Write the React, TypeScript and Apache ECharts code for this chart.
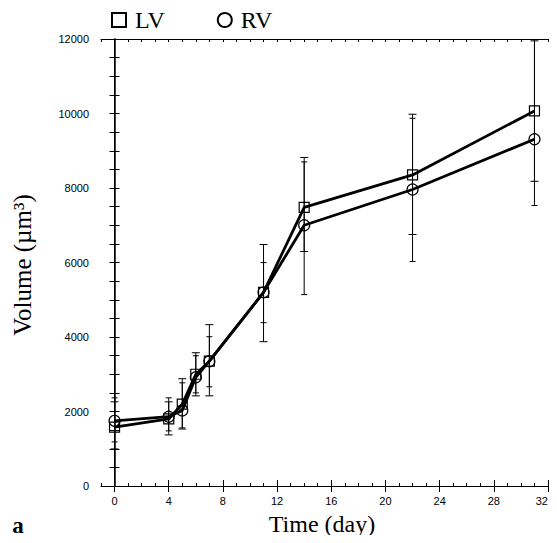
import React, { useEffect, useRef } from "react";
import * as echarts from "echarts";

const days = [0, 4, 5, 6, 7, 11, 14, 22, 31];
const lvMean = [1580, 1800, 2200, 3000, 3350, 5200, 7480, 8350, 10070];
const rvMean = [1750, 1860, 2030, 2920, 3350, 5200, 7000, 7960, 9310];
const lvLow = [995, 1372, 1530, 2420, 2420, 3874, 6295, 6752, 8180];
const lvHigh = [2260, 2260, 2880, 3578, 4331, 6483, 8820, 9980, 11950];
const rvLow = [1184, 1480, 1560, 2500, 2663, 4385, 5138, 6026, 7530];
const rvHigh = [2367, 2367, 2770, 3497, 4008, 5998, 8700, 9872, 12400];
const xLabels = [0, 4, 8, 12, 16, 20, 24, 28];
const xLastLabel = 32;
const xMajorTicks = [0, 4, 8, 12, 16, 20, 24, 28, 32];
const yLabels = [0, 2000, 4000, 6000, 8000, 10000, 12000];

const W = 557;
const H = 543;
const G_LEFT = 101;
const G_RIGHT = 9;
const G_TOP = 39;
const G_BOTTOM = 57;
const X_MIN = -1;
const X_MAX = 32;

const errorSeries = (name: string, low: number[], high: number[], cap: number) => ({
  type: "custom",
  name: name + "-err",
  clip: true,
  silent: true,
  z: 1,
  data: days.map((d, i) => [d, low[i], high[i]]),
  renderItem: (params: any, api: any) => {
    const x = api.value(0);
    const lo = api.coord([x, api.value(1)]);
    const hi = api.coord([x, api.value(2)]);
    const st = { stroke: "#000", lineWidth: 1 };
    return {
      type: "group",
      children: [
        { type: "line", shape: { x1: lo[0], y1: lo[1], x2: hi[0], y2: hi[1] }, style: st },
        { type: "line", shape: { x1: lo[0] - cap, y1: lo[1], x2: lo[0] + cap, y2: lo[1] }, style: st },
        { type: "line", shape: { x1: hi[0] - cap, y1: hi[1], x2: hi[0] + cap, y2: hi[1] }, style: st },
      ],
    };
  },
});

const lineSeries = (name: string, vals: number[], symbol: string, size: number) => ({
  type: "line",
  name,
  data: days.map((d, i) => [d, vals[i]]),
  symbol,
  symbolSize: size,
  showAllSymbol: true,
  z: 3,
  lineStyle: { color: "#000", width: 2.8 },
  itemStyle: { color: "rgba(0,0,0,0)", borderColor: "#000", borderWidth: 1.2 },
});

const axisBase = {
  type: "value",
  min: X_MIN,
  max: X_MAX,
  axisLine: { show: true, onZero: false, lineStyle: { color: "#000", width: 1 } },
  splitLine: { show: false },
};

export default function App() {
  const ref = useRef<HTMLDivElement>(null);
  useEffect(() => {
    const chart = echarts.init(ref.current!, null, { renderer: "svg" });
    const tickFont = { fontFamily: "Liberation Sans", fontSize: 11, color: "#000" };
    const lastX = G_LEFT + ((xLastLabel - X_MIN) / (X_MAX - X_MIN)) * (W - G_LEFT - G_RIGHT);
    const axisY = H - G_BOTTOM;
    chart.setOption({
      animation: false,
      backgroundColor: "#fff",
      grid: { left: G_LEFT, right: G_RIGHT, top: G_TOP, bottom: G_BOTTOM },
      legend: {
        left: 106,
        top: 3,
        itemWidth: 14,
        itemHeight: 14,
        itemGap: 52,
        textStyle: { fontFamily: "Liberation Serif", fontSize: 24, color: "#000", padding: [0, 0, 0, 4] },
        data: [
          { name: "LV", icon: "rect", itemStyle: { color: "rgba(0,0,0,0)", borderColor: "#000", borderWidth: 2 } },
          { name: "RV", icon: "circle", itemStyle: { color: "rgba(0,0,0,0)", borderColor: "#000", borderWidth: 2 } },
        ],
      },
      xAxis: [
        {
          ...axisBase,
          position: "bottom",
          interval: 1,
          axisTick: { show: true, inside: true, length: 6, customValues: xMajorTicks, lineStyle: { color: "#000" } },
          axisLabel: {
            show: true,
            customValues: xLabels,
            margin: 9,
            formatter: (v: number) => String(v),
            ...tickFont,
          },
        },
        {
          ...axisBase,
          position: "bottom",
          interval: 1,
          axisLine: { show: false },
          axisTick: { show: true, inside: true, length: 3, lineStyle: { color: "#000" } },
          axisLabel: { show: false },
        },
        {
          ...axisBase,
          position: "top",
          interval: 1,
          axisTick: { show: true, inside: true, length: 3, lineStyle: { color: "#000" } },
          axisLabel: { show: false },
        },
        {
          ...axisBase,
          position: "top",
          interval: 1,
          axisLine: { show: false },
          axisTick: { show: true, inside: true, length: 6, customValues: xMajorTicks, lineStyle: { color: "#000" } },
          axisLabel: { show: false },
        },
      ],
      yAxis: [
        {
          type: "value",
          min: 0,
          max: 12000,
          interval: 500,
          position: "left",
          axisLine: { show: true, lineStyle: { color: "#000" } },
          axisTick: { show: true, inside: true, length: 5, lineStyle: { color: "#000" } },
          axisLabel: {
            show: true,
            customValues: yLabels,
            margin: 12,
            formatter: (v: number) => String(v),
            ...tickFont,
          },
          splitLine: { show: false },
        },
        {
          type: "value",
          min: 0,
          max: 12000,
          interval: 500,
          position: "right",
          axisLine: { show: true, lineStyle: { color: "#000", width: 1.5 } },
          axisTick: { show: true, inside: true, length: 5, lineStyle: { color: "#000" } },
          axisLabel: { show: false },
          splitLine: { show: false },
        },
      ],
      graphic: [
        {
          type: "text",
          x: 22,
          y: 265,
          rotation: Math.PI / 2,
          style: {
            text: "Volume (µm³)",
            fontFamily: "Liberation Serif",
            fontSize: 25,
            fill: "#000",
            align: "center",
            verticalAlign: "middle",
          },
        },
        {
          type: "text",
          x: 322,
          y: 524,
          style: {
            text: "Time (day)",
            fontFamily: "Liberation Serif",
            fontSize: 24,
            fill: "#000",
            align: "center",
            verticalAlign: "middle",
          },
        },
        {
          type: "text",
          x: 18,
          y: 525,
          style: {
            text: "a",
            fontFamily: "Liberation Serif",
            fontWeight: "bold",
            fontSize: 23,
            fill: "#000",
            align: "center",
            verticalAlign: "middle",
          },
        },
        {
          type: "text",
          x: lastX,
          y: axisY + 9,
          z: 100,
          style: {
            text: String(xLastLabel),
            fontFamily: "Liberation Sans",
            fontSize: 11,
            fill: "#000",
            align: "right",
            verticalAlign: "top",
          },
        },
      ],
      series: [
        errorSeries("LV", lvLow, lvHigh, 4),
        errorSeries("RV", rvLow, rvHigh, 3),
        lineSeries("LV", lvMean, "rect", 10),
        lineSeries("RV", rvMean, "circle", 11),
      ],
    });
    return () => chart.dispose();
  }, []);
  return <div ref={ref} style={{ width: W, height: H, margin: -8 }} />;
}
